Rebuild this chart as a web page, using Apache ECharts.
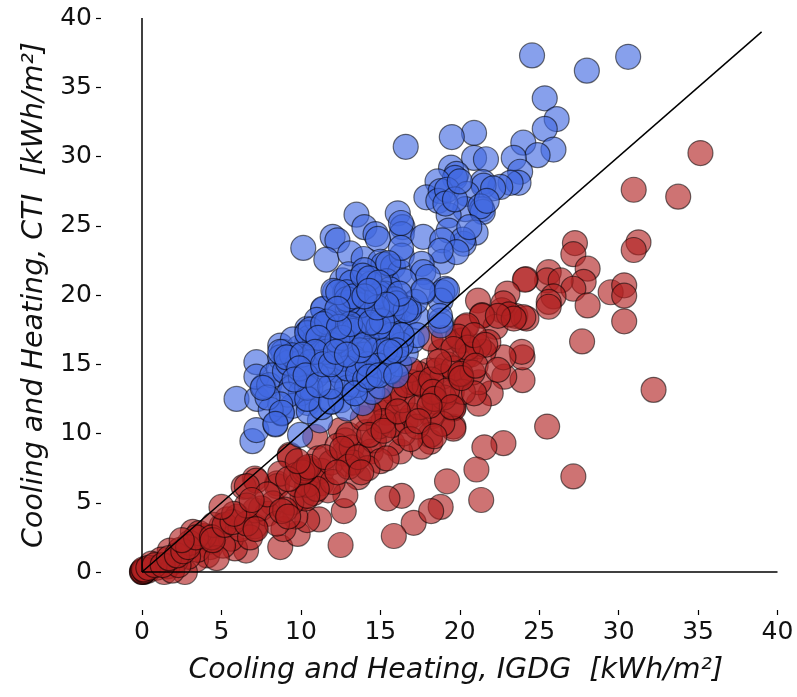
<!DOCTYPE html>
<html><head><meta charset="utf-8">
<script src="https://cdn.jsdelivr.net/npm/echarts@6/dist/echarts.min.js"></script>
<style>html,body{margin:0;padding:0;background:#fff}#c{width:797px;height:697px}</style>
</head><body><div id="c"></div>
<script>
const xTitle = 'Cooling and Heating, IGDG  [kWh/m²]';
const yTitle = 'Cooling and Heating, CTI  [kWh/m²]';
const blueUpper = [[24.55,37.3],[30.6,37.2],[28,36.2],[25.35,34.2],[26.1,32.7],[25.35,32],[25.9,30.5],[24,31],[24.9,30.1],[23.4,29.9],[20.9,31.7],[19.5,31.4],[16.6,30.7],[20.9,29.9],[21.65,29.8],[19.45,29.2],[19.8,28.75],[19.7,28.45],[18.6,28.2],[23.8,28.9],[23.7,28.1],[23.2,28.1],[22.55,27.8],[21.45,28.15],[21.5,27.9],[22.1,27.7],[17.9,27.05],[18.8,27.5],[18.65,26.8],[19.2,27.6],[20.45,27.3],[20.35,26.2],[21.4,26.2],[21.45,26],[21.3,26.4],[19.3,25.75],[16.1,25.9],[16.4,24.9],[16.35,24.4],[16.3,25.2],[13.5,25.8],[14,24.9],[14.7,24.4],[14.85,24.05],[12,24.2],[12.3,23.95],[10.15,23.4],[11.6,22.55],[13.1,23],[17.7,24.2],[19.3,24.65],[21,24.5],[20.25,23.7],[20.2,24],[18.9,23.95],[18.9,22.4],[19.8,23.1],[18.8,23.2],[13.95,22.6],[15,22.4],[15.2,22.2],[15.8,22.05],[16.25,21.65],[16.35,22.85],[16.3,23.4],[17.6,22.25],[17.7,21.65],[18,21.3],[19.1,20.45],[18.9,20.2],[18.8,19.6],[17.7,20.2],[15.95,19.65],[15.05,19.95],[13.75,20.55],[12.6,21.05],[12.15,20.2],[11.4,18.95],[12.8,20.2],[13.3,19.5],[13.8,19.1],[16.8,18.75],[16.3,19.2],[14.6,20.1],[18.8,18.15],[11.75,18.15],[10.4,17.55],[13.5,17.9],[14.05,18.15],[16.25,17.45],[13,21.5],[14,21.8],[15.4,21],[16.5,21],[13.2,20.9],[12.9,19.3],[14.3,19.5],[15,18.7],[15.9,18.3],[17.3,18.4],[17.2,19.5],[14.4,20.8],[15.6,20.4]];
const blueCore = [[5.95,12.5],[7.2,15.15],[7.25,12.5],[6.95,9.45],[7.2,10.25],[8.4,10.65],[8.8,11.45],[8.7,16.35],[7.65,13.4],[7.2,14.1],[8.6,14.7],[9.6,15.6],[8.9,15.9],[8.7,15.5],[10.45,17.3],[10.4,16.6],[10.5,16.9],[11.4,19],[10.5,12.5],[10.45,12.2],[9.95,9.9],[11.2,10.95],[11.95,12.3],[12.05,20.3],[12.9,20.2],[13.4,19.35],[13.7,19.1],[13.4,17.8],[13.9,17.7],[13.8,18],[12.9,16.7],[11.65,15.9],[11.85,13.35],[13.5,15.15],[14.05,13.95],[13.4,12.9],[15.6,14.45],[16.35,17.1],[16,16],[15.3,20.1],[15.95,19.65],[16.8,19],[17.7,20.3],[19.2,20.35],[18.8,17.8],[18.75,18.5],[8,13.5],[8.2,14.2],[9,14.5],[9.4,13.3],[10,14],[10.3,15],[10.8,15.5],[11.2,16.3],[11.7,17],[12.2,17.6],[12.7,18],[12.4,18.5],[11.5,17.7],[11,18.2],[12.8,17.2],[13.1,16.2],[13.6,16.5],[14.3,16.8],[14.7,17.4],[15.1,16.9],[15.5,17.6],[15,15.6],[14.5,15.2],[14,15.7],[13,14.8],[12.6,14],[12.2,14.6],[11.5,14.6],[11,14.2],[10.6,13.3],[10,12.9],[9.5,12],[9.2,12.8],[8.7,12.1],[8.1,11.7],[7.9,12.6],[10.5,11.6],[11.3,11.9],[12.5,12.4],[12.9,11.8],[13.9,12.2],[14.5,13],[15,13.4],[15.2,14.6],[16.2,15],[16.6,15.8],[17,16.7],[17.3,17.1],[14.6,14.2],[13.5,13.5],[12.9,13.3],[12,15.6],[12.7,15.4],[13.3,15.5],[14.7,16],[15.5,15.2],[16.3,16.4],[13.4,18.3],[14.6,18.4],[15.7,18.9],[9.9,16.2],[9.5,16.8],[9.2,15.1],[9.8,15],[10.9,16.7],[11.9,16.4]];
const blueDense = [[13.6,17.7],[13.75,17.8],[14.1,17.75],[14.2,17.9],[13.7,18.1],[13.3,17.4],[13.5,19.3],[13.75,19.25],[13,19.45],[12.9,19.7],[13.3,19.9],[12.35,20.2],[15,20.1],[14.8,19.9],[15.9,19.7],[16,19.4],[16.6,18.9],[15.5,22.3],[13.9,21.4],[14.3,21.2],[14.9,20.9],[16.2,20.1],[10.4,17.25],[10.6,17.5],[11.65,18.05],[11.4,17.9],[9.45,15.65],[8.7,15.9],[9.1,15.5],[7.6,13.3],[10.6,15.15],[11.6,15.9],[12.3,16.7],[12.6,16.9],[13.5,15.2],[12.9,14.7],[13.6,14.3],[14.05,13.9],[10.4,13.3],[10.4,12.5],[8.8,11.5],[8.4,10.7],[11.9,12.3],[11.85,13.4],[13.4,12.9],[15.7,17.1],[15.3,16],[14.9,14.9],[14.2,15],[13.7,16],[14,16.4],[15.6,14.5],[16.35,17.1],[16,16],[15.6,15.9],[13.1,17.9],[12.4,17.7],[11.1,16.9],[10.9,15.9],[10.1,15.7],[9.9,14.7],[9.6,13.9],[10.3,14.2],[11.1,13.5],[11.4,15],[11.9,15],[12.2,15.9],[12.9,15.7],[14.3,14.1],[14.9,14.2],[16,14.2],[14.9,17.7],[15.1,18.1],[14.4,18],[14.8,19.1],[15.4,19.3],[14,19.9],[14.3,20.3],[12.3,19],[19.1,26.6],[19.7,26.9],[20,28.2],[21.7,26.8],[20.6,24.9]];
const redUpper = [[35.15,30.25],[33.75,27.1],[30.95,27.6],[31.25,23.8],[30.95,23.25],[27.25,23.75],[27.15,22.95],[28.05,21.9],[27.8,20.95],[25.6,21.65],[25.5,21.05],[26.35,21.05],[27.15,20.45],[29.5,20.2],[30.35,20.7],[30.35,19.95],[30.35,18.1],[28.05,19.25],[25.9,19.9],[25.6,19.5],[25.6,19.15],[24.15,21.15],[24.1,21.1],[27.7,16.65],[32.2,13.15],[25.5,10.5],[27.15,6.9],[22.75,9.3],[21.55,9],[21.05,7.4],[19.2,6.55],[21.35,5.2],[18.8,4.7],[23.95,13.85],[23.95,15.5],[23.9,15.9],[22.8,14.1],[22.75,15.5],[21.95,12.9],[21.2,12.15],[21.2,13.7],[19.6,10.5],[18.15,9.4],[21.15,19.6],[23,20.1],[22.65,18.9],[23.5,18.5],[24.2,18.3],[24,18.4],[22.75,19.4],[21.4,18.55],[20.35,17.7],[22.25,17.7],[20.15,16.7],[21.8,16.6],[21.5,15.9],[20.35,15.55],[20.05,14.2],[20,14.1],[18.8,15.9],[18.45,12.5],[19.6,11.9],[18.25,11.25],[18.05,14.55],[17.1,3.55],[18.2,4.4],[16.35,5.5],[15.45,5.3],[15.85,2.6]];
const redCore = [[20.05,16.7],[21.2,16.3],[21.4,18.5],[18.15,16.85],[20.45,17.8],[17.4,14.3],[18.55,14.55],[18.25,13.1],[18.45,12.3],[19.5,13],[19.6,11.8],[18.25,11.4],[19.6,10.35],[18.15,9.9],[17.6,9.05],[16.25,8.7],[15.75,9.3],[16.45,10],[16.05,11.55],[15.3,11.8],[15.4,11.5],[16.25,13.25],[17.3,12.65],[14.1,10.1],[12.5,10.25],[10.9,9.75],[12.8,9.5],[13.75,8.45],[12.9,7.8],[12.7,8.55],[11.1,8.2],[10.25,7.35],[10.3,7.4],[10.2,7.3],[9.3,8.45],[13.6,6.85],[11.3,6.4],[8.5,6.4],[7.1,6.75],[6.4,6.15],[12.5,1.95],[8.7,1.8],[9.8,2.75],[12.7,4.4],[12.8,5.55],[11.15,3.8],[10.4,3.75],[9.65,4],[10.1,5.4],[10.3,5.3],[10.8,5.7],[9.3,8.35],[8.5,6.2],[7.2,6.6],[6.6,6.2],[7.1,3.15],[7.1,3.3],[7.1,4.45],[8.25,4.95],[7.9,4.2],[7.5,4.6],[6.55,1.55],[5.85,1.7],[4.3,2.55],[4.3,1.8],[4.35,2.2],[4.1,1.2],[3.4,0.9],[2.7,0],[5.35,3.8],[3.2,2.9],[1.75,1.55],[5,3.3],[5.6,2.4],[5.1,1.9],[3.9,2.6],[3.5,1.6],[2.9,1.1],[2.4,1.6],[2.1,0.8],[1.6,0.4],[1.2,0.9],[0.9,0.3],[0.6,0.6],[0.35,0.1],[0.05,0],[0,0.05],[0.1,0],[0,0],[0.05,0.05],[0.2,0.15],[1.4,0],[1.9,0.1],[2.3,0.5],[3,2.1],[3.6,2.8],[4.5,3.4],[4.7,1],[6.2,3.1],[6.8,2.5],[6,4],[8.9,3.1],[8.5,3.5],[9.4,5],[9,4.5],[8.7,7.1],[9.7,7],[10.7,7.1],[11.3,7.3],[11.9,7.9],[12.3,9.1],[13.2,9],[13.3,7.9],[13,9.9],[14.4,8.7],[14.6,9.5],[14.9,10.5],[15.7,10.6],[16.6,10.9],[17,11.3],[17.3,10.5],[16.9,9.6],[15,8],[14.2,7.5],[11.7,5.9],[12,6.5],[16.4,12.4],[17,13.7],[17.8,13.4],[16.9,14.6],[18.9,14.1],[19.2,15],[19.6,14.7],[19,16.9],[19.9,17],[20.7,15.7],[20.8,14.4],[20.2,13],[19,12.6],[20.9,12.9],[18.9,10.7],[17.5,11.9],[15.9,12.9],[14.9,12.5],[15.2,10.9],[13.9,11.1],[14.3,11.5],[10.4,6.3],[9.8,6.3],[11,6]];
const redDense = [[0.15,0.1],[0.1,0.2],[0.4,0.3],[0.8,0.5],[1.3,0.5],[1.7,1],[2.2,1.2],[2.6,1.5],[2.9,1.8],[3.4,2.5],[4.4,2.5],[4.45,2.3],[5.2,3.4],[5.7,3.6],[6.6,3.5],[7.15,3.1],[6.6,4.8],[5.8,4.2],[7.9,5.6],[8.8,4.4],[9.2,4],[10.4,5.5],[10.25,7.3],[10.35,7.5],[10.1,7.2],[10.5,7.6],[11.5,8.3],[12.6,8.9],[13,7.6],[13.6,8.3],[12.3,7.2],[14.3,9.9],[15.2,10.2],[16.1,11.6],[16.6,13.5],[17.5,13.6],[18.2,13.9],[18.3,13],[18.4,12.5],[19.2,13.1],[19.5,11.9],[20.05,14.3],[20.1,14],[20.5,16.2],[19.6,16.1],[18.7,15.2],[18.1,12],[17.4,10.9],[18.4,9.8],[20.9,17.1],[21.6,16.4],[21,14.9],[22.4,14.6],[23.1,18.6],[23.4,18.3],[22.4,18.5],[13.8,7.2],[15.4,8.2],[9.2,6.7],[9.8,8],[6.9,5.2],[5,4.7],[2.5,2.3]];
const diagonal = [[0,0],[39,39]];
const xAxisLine = [[0,0],[40,0]];
const yAxisLine = [[0,0],[0,40]];
const lineSeries = d => ({type:'line',data:d,symbol:'none',silent:true,z:10,clip:false,lineStyle:{color:'#000',width:1.5},animation:false});
const dots = (d,c,z) => ({type:'scatter',data:d,symbolSize:25,clip:false,silent:true,z,animation:false,itemStyle:{opacity:1,color:c,borderColor:'rgba(0,0,0,0.55)',borderWidth:1.2}});
const font = 'DejaVu Sans';
const hiddenLine = {show:true,onZero:false,lineStyle:{color:'#222',opacity:0}};
const chart = echarts.init(document.getElementById('c'),null,{renderer:'canvas'});
chart.setOption({
  animation:false,backgroundColor:'#fff',
  grid:{left:142,right:19.5,top:18,bottom:125,outerBoundsMode:'none',containLabel:false},
  xAxis:{type:'value',min:0,max:40,interval:5,offset:38,splitLine:{show:false},axisLine:hiddenLine,
    axisTick:{show:true,length:5,lineStyle:{color:'#000',width:1.2,opacity:1}},
    axisLabel:{show:true,fontFamily:font,fontSize:25,color:'#111',margin:10,showMinLabel:true,showMaxLabel:true},
    name:xTitle,nameLocation:'middle',nameGap:46,nameTextStyle:{fontFamily:font,fontStyle:'italic',fontSize:28.5,color:'#111',padding:[0,8,0,0]}},
  yAxis:{type:'value',min:0,max:40,interval:5,offset:41,splitLine:{show:false},axisLine:hiddenLine,
    axisTick:{show:true,length:5,lineStyle:{color:'#000',width:1.2,opacity:1}},
    axisLabel:{show:true,fontFamily:font,fontSize:25,color:'#111',margin:9,showMinLabel:true,showMaxLabel:true},
    name:yTitle,nameLocation:'middle',nameGap:29,nameRotate:90,nameTextStyle:{fontFamily:font,fontStyle:'italic',fontSize:28.5,color:'#111'}},
  series:[
    dots(redUpper.concat(redCore,redDense),'rgba(178,34,34,0.63)',2),
    dots(blueUpper.concat(blueCore,blueDense),'rgba(65,105,225,0.63)',3),
    lineSeries(diagonal),lineSeries(xAxisLine),lineSeries(yAxisLine)
  ]
});
</script></body></html>
